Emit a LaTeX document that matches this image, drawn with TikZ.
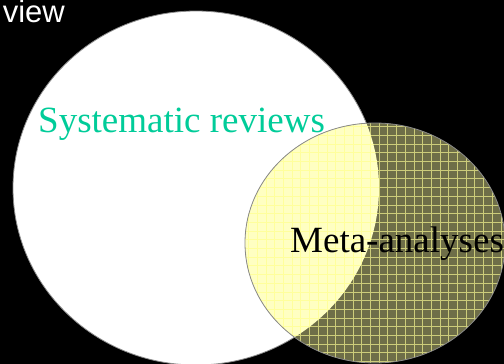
\documentclass[tikz,border=0pt]{standalone}
\usepackage{fontspec}
\setmainfont{Liberation Serif}
\newfontfamily\arialfont{Liberation Sans}
\definecolor{teal1}{HTML}{00CC99}
\definecolor{olive1}{HTML}{6E6E48}
\definecolor{oliveline}{HTML}{CCCC7A}
\definecolor{lightyel}{HTML}{FFFFC2}
\definecolor{lightline}{HTML}{FFFF9C}
\definecolor{rimgray}{HTML}{8A8A8A}
\tikzset{
  lbl/.style={inner sep=0pt, anchor=base west},
  rim/.style={draw=rimgray, line width=0.8pt},
}
\begin{document}
\begin{tikzpicture}[x=1pt,y=-1pt]
\useasboundingbox (0,0) rectangle (504,364);
\fill[black] (0,0) rectangle (504,364);
% big circle (systematic reviews)
\fill[white] (196,188) ellipse[x radius=183, y radius=177];
\draw[rim] (196,188) ellipse[x radius=183, y radius=177];
% small ellipse (meta-analyses)
\fill[olive1] (375,243) ellipse[x radius=130, y radius=120];
\begin{scope}
  \clip (375,243) ellipse[x radius=130, y radius=120];
  \foreach \i in {0,...,32} {
    \draw[oliveline, line width=1pt] (240+\i*8.7,100) -- (240+\i*8.7,370);
  }
  \foreach \j in {0,...,32} {
    \draw[oliveline, line width=1pt] (240,118+\j*8.7) -- (510,118+\j*8.7);
  }
  \clip (196,188) ellipse[x radius=183, y radius=177];
  \fill[lightyel] (230,100) rectangle (510,370);
  \foreach \i in {0,...,32} {
    \draw[lightline, line width=1pt] (240+\i*8.7,100) -- (240+\i*8.7,370);
  }
  \foreach \j in {0,...,32} {
    \draw[lightline, line width=1pt] (240,118+\j*8.7) -- (510,118+\j*8.7);
  }
\end{scope}
\draw[rim] (375,243) ellipse[x radius=130, y radius=120];
% texts
\node[lbl, anchor=base east, text=white, font=\arialfont\fontsize{31}{36}\selectfont] (title) at (65,23) {view};
\node[lbl, text=teal1, font=\fontsize{37}{44}\selectfont] (sr) at (38,132) {Systematic reviews};
\node[lbl, text=black, font=\fontsize{37}{44}\selectfont] (ma) at (290,252) {Meta-analyses};
\end{tikzpicture}
\end{document}
